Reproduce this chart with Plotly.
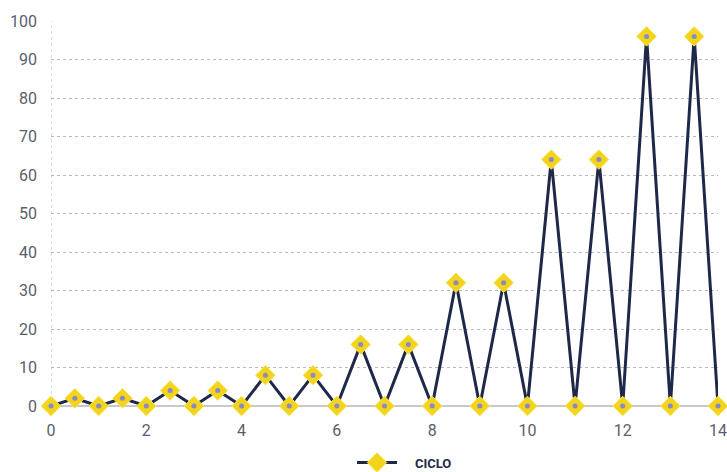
import plotly.graph_objects as go

x_vals = [0, 0.5, 1, 1.5, 2, 2.5, 3, 3.5, 4, 4.5, 5, 5.5, 6, 6.5, 7, 7.5, 8, 8.5, 9, 9.5,
          10, 10.5, 11, 11.5, 12, 12.5, 13, 13.5, 14]
ciclo = [0, 2, 0, 2, 0, 4, 0, 4, 0, 8, 0, 8, 0, 16, 0, 16, 0, 32, 0, 32,
         0, 64, 0, 64, 0, 96, 0, 96, 0]
series_name = "CICLO"
x_ticks = [0, 2, 4, 6, 8, 10, 12, 14]
y_ticks = [0, 10, 20, 30, 40, 50, 60, 70, 80, 90, 100]

font_family = "Liberation Sans Narrow, Roboto, Liberation Sans, sans-serif"

fig = go.Figure()
fig.add_trace(go.Scatter(
    x=x_vals, y=ciclo, mode="lines+markers",
    name="&nbsp;&nbsp;&nbsp;&nbsp;<b>" + series_name + "</b>",
    line=dict(color="#1e2849", width=3),
    marker=dict(symbol="diamond", size=15, color="#f2d41a",
                line=dict(color="#f7e24a", width=1)),
    cliponaxis=False,
))
fig.add_trace(go.Scatter(
    x=x_vals, y=ciclo, mode="markers", showlegend=False, hoverinfo="skip",
    marker=dict(symbol="circle", size=5, color="#8d86c9"),
    cliponaxis=False,
))

fig.update_layout(
    width=727, height=472,
    margin=dict(l=51, r=9, t=21, b=66),
    paper_bgcolor="white", plot_bgcolor="white",
    font=dict(family=font_family, color="#5a5e6a", size=16),
    showlegend=True,
    legend=dict(orientation="h", x=0.53, xanchor="center",
                yref="container", y=0.02, yanchor="middle",
                borderwidth=0, tracegroupgap=0,
                font=dict(size=13, color="#1e2849", family=font_family),
                itemwidth=40),
    xaxis=dict(range=[0, 14], tickvals=x_ticks, showgrid=False, zeroline=False,
               showline=False, ticks="", ticklabelstandoff=13, automargin=False),
    yaxis=dict(range=[0, 100], tickvals=y_ticks, showgrid=True,
               gridcolor="#b8b8c4", griddash="dot", gridwidth=1,
               zeroline=True, zerolinecolor="#c8c8c8", zerolinewidth=1.5,
               showline=False, ticks="", ticklabelstandoff=13, automargin=False),
)
fig.add_shape(type="line", xref="x", yref="paper", x0=0, x1=0, y0=0, y1=1,
              line=dict(color="#b8b8c4", width=1, dash="dot"), layer="below")

fig.write_html(
    "out.html",
    config={"displayModeBar": False},
    post_script="document.body.style.margin='0';document.body.style.overflow='hidden';",
)
